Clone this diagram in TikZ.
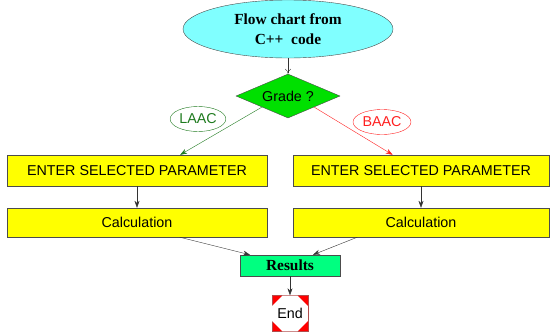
\documentclass[tikz,border=0pt]{standalone}
\usepackage{fontspec}
\setmainfont{Liberation Serif}
\setsansfont{Liberation Sans}
\usetikzlibrary{shapes.geometric,arrows.meta}
\definecolor{title}{HTML}{80FFFF}
\definecolor{grade}{HTML}{00E000}
\definecolor{param}{HTML}{FFFF00}
\definecolor{result}{HTML}{00FF80}
\definecolor{laac}{HTML}{1E7A1E}
\definecolor{baac}{HTML}{FF2020}
\definecolor{stop}{HTML}{FF0000}

\begin{document}
\begin{tikzpicture} [x=1pt,y=-1pt,
  sans/.style={font=\sffamily\fontsize{14.3}{16}\selectfont},
  serif/.style={font=\bfseries\fontsize{15.4}{20}\selectfont},
  box/.style={sans,draw=black!70,fill=param,minimum width=260pt,inner sep=0},
  tip/.style={-{Stealth[length=7pt,width=5pt]},black!80},
  lbl/.style={sans,shape=ellipse,draw,inner sep=1pt,minimum width=48pt,minimum height=25pt}]
  \useasboundingbox (0,0) rectangle (551,335);
  % Top
  {\node[serif,shape=ellipse,draw=black!70,fill=title,minimum width=210pt,minimum height=58pt,align=center] (title) at (288,29) {Flow chart from\\C++\ \ code};}
  {\node[sans,shape=diamond,aspect=2.36,draw=black!70,fill=grade,minimum width=104pt,minimum height=44pt,inner sep=0] (grade) at (288,96) {Grade ?};}
  {\node[lbl,draw=laac,text=laac] (laac) at (198,119) {LAAC};}
  {\node[lbl,draw=baac,text=baac] (baac) at (382,122) {BAAC};}
  % Left
  {\node[box,minimum height=31pt] (enterL) at (137,170.5) {ENTER SELECTED PARAMETER};}
  {\node[box,minimum height=29pt] (calcL) at (137,222.5) {Calculation};}
  % Right
  {\node[box,minimum height=31pt,minimum width=256pt] (enterR) at (421,170.5) {ENTER SELECTED PARAMETER};}
  {\node[box,minimum height=29pt,minimum width=256pt] (calcR) at (421,222.5) {Calculation};}
  % Bottom
  {\node[serif,draw=black!70,fill=result,minimum width=100pt,minimum height=21pt,inner sep=0] (results) at (290,265.5) {Results};}
  {\node[draw=stop!40!gray,fill=stop,minimum size=36pt,inner sep=0] (endsq) at (290,313.5) {};}
  {\node[sans,shape=regular polygon,regular polygon sides=8,fill=white,minimum size=38.5pt,inner sep=0] (end) at (endsq) {End};}
  % Edges
  \draw[-{To[length=5pt,width=6pt]},black!80] (title) -- (grade);
  \draw[tip,laac] (grade.south west) -- (enterL.20);
  \draw[tip,baac] (grade.south east) -- (enterR.151);
  \draw[tip] (enterL) -- (calcL);
  \draw[tip] (enterR) -- (calcR);
  \draw[tip] (calcL.-19) -- (results.165);
  \draw[tip] (calcR.193) -- (results.25);
  \draw[tip] (results) -- (endsq);
\end{tikzpicture}
\end{document}
